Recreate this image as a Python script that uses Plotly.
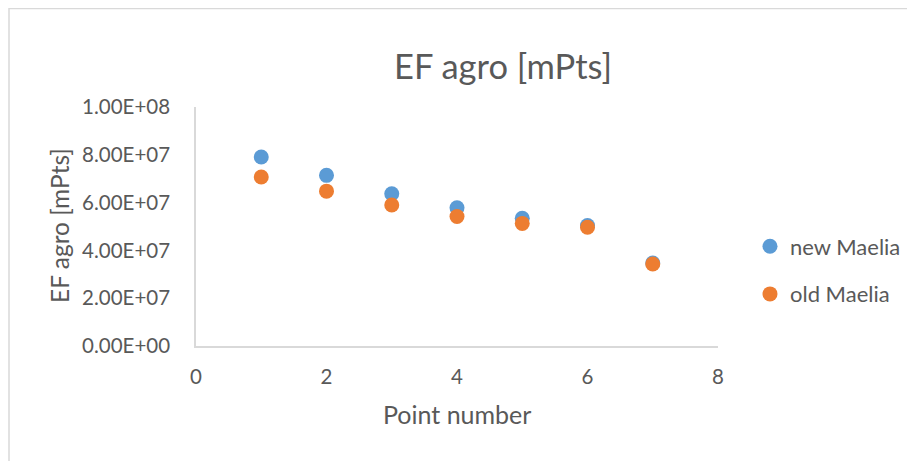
import plotly.graph_objects as go

point_number = [1, 2, 3, 4, 5, 6, 7]
new_maelia = [7.91e7, 7.14e7, 6.37e7, 5.78e7, 5.34e7, 5.04e7, 3.47e7]
old_maelia = [7.07e7, 6.48e7, 5.90e7, 5.42e7, 5.13e7, 4.97e7, 3.43e7]
y_ticks = [0, 2e7, 4e7, 6e7, 8e7, 1e8]
y_tick_labels = ["0.00E+00", "2.00E+07", "4.00E+07", "6.00E+07", "8.00E+07", "1.00E+08"]
x_ticks = [0, 2, 4, 6, 8]

FONT = "Lato"
TXT = "#595959"

# plot area (figure px): left 188, top 99, width 522, height 239
L, T, W, H = 188, 99, 522, 239
FW, FH = 915, 461

def px(xf):
    return (xf - L) / W

def py(yf):
    return (T + H - yf) / H

fig = go.Figure()
fig.add_trace(go.Scatter(x=point_number, y=new_maelia, mode="markers", name="new Maelia",
                         legendgroup="a", marker=dict(color="#5B9BD5", size=15)))
fig.add_trace(go.Scatter(x=point_number, y=old_maelia, mode="markers", name="old Maelia",
                         legendgroup="b", marker=dict(color="#ED7D31", size=15)))

fig.update_layout(
    width=FW, height=FH,
    margin=dict(l=L, r=FW - L - W, t=T, b=FH - T - H),
    paper_bgcolor="white", plot_bgcolor="white",
    font=dict(family=FONT, color=TXT, size=20.5),
    xaxis=dict(range=[0, 8], tickvals=x_ticks, showgrid=False, zeroline=False,
               showline=True, linecolor="#d9d9d9", linewidth=1.5,
               ticks="outside", ticklen=12, tickcolor="rgba(0,0,0,0)",
               tickfont=dict(size=20.5, color=TXT)),
    yaxis=dict(range=[0, 1e8], tickvals=y_ticks, ticktext=y_tick_labels, showgrid=False,
               zeroline=False, showline=True, linecolor="#d9d9d9", linewidth=1.5,
               ticks="outside", ticklen=20, tickcolor="rgba(0,0,0,0)",
               tickfont=dict(size=20.5, color=TXT)),
    legend=dict(x=px(742), y=py(262.5), xanchor="left", yanchor="middle",
                font=dict(size=22, color=TXT), itemsizing="trace", itemwidth=30,
                tracegroupgap=16, bgcolor="rgba(0,0,0,0)"),
    annotations=[
        dict(text="EF agro [mPts]", xref="paper", yref="paper", x=px(495), y=py(57),
             xanchor="center", yanchor="middle", showarrow=False,
             font=dict(size=34.5, color=TXT, family=FONT)),
        dict(text="Point number", xref="paper", yref="paper", x=px(449), y=py(406),
             xanchor="center", yanchor="middle", showarrow=False,
             font=dict(size=25, color=TXT, family=FONT)),
        dict(text="EF agro [mPts]", xref="paper", yref="paper", x=px(51), y=py(218),
             xanchor="center", yanchor="middle", showarrow=False, textangle=-90,
             font=dict(size=24.5, color=TXT, family=FONT)),
    ],
    shapes=[dict(type="rect", xref="paper", yref="paper",
                 x0=px(1), x1=px(930), y0=py(470), y1=py(0.5),
                 line=dict(color="#d9d9d9", width=1.5), fillcolor="rgba(0,0,0,0)", layer="below")],
)

fig.write_html("out.html")
